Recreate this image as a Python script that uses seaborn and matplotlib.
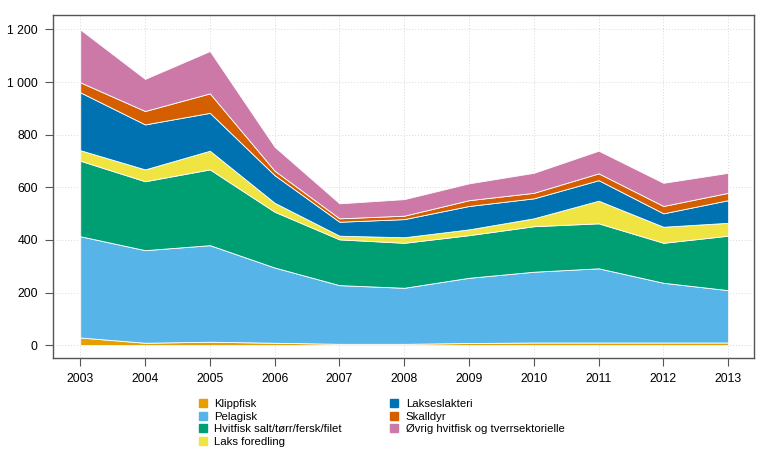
import numpy as np
import pandas as pd
import seaborn as sns
import matplotlib.pyplot as plt
from matplotlib.lines import Line2D
from matplotlib.ticker import FuncFormatter

### Data
years = [2003, 2004, 2005, 2006, 2007, 2008, 2009, 2010, 2011, 2012, 2013]
klippfisk = [29, 9, 13, 9, 5, 5, 8, 10, 10, 10, 10]
pelagisk = [385, 352, 367, 286, 223, 213, 248, 269, 282, 227, 199]
hvitfisk = [287, 262, 288, 212, 174, 171, 162, 173, 171, 152, 207]
laks_foredling = [40, 45, 71, 34, 14, 21, 22, 30, 86, 61, 49]
lakseslakteri = [220, 171, 144, 105, 53, 69, 89, 76, 78, 51, 86]
skalldyr = [38, 51, 74, 17, 13, 13, 22, 21, 26, 28, 28]
ovrig = [201, 122, 161, 91, 57, 63, 64, 76, 86, 88, 76]

labels = ["Klippfisk", "Pelagisk", "Hvitfisk salt/tørr/fersk/filet",
          "Laks foredling", "Lakseslakteri", "Skalldyr",
          "Øvrig hvitfisk og tverrsektorielle"]

df = pd.DataFrame({labels[0]: klippfisk, labels[1]: pelagisk,
                   labels[2]: hvitfisk, labels[3]: laks_foredling,
                   labels[4]: lakseslakteri, labels[5]: skalldyr,
                   labels[6]: ovrig}, index=years)

### Style
sns.set_style("white")
plt.rcParams['font.family'] = ['Liberation Sans', 'DejaVu Sans']
plt.rcParams['text.color'] = 'black'
colors = sns.color_palette(["#E69F00", "#56B4E9", "#009E73", "#F0E442",
                            "#0072B2", "#D55E00", "#CC79A7"])

fig = plt.figure(figsize=(7.62, 4.57), dpi=100)
ax = fig.add_axes([0.0696, 0.2166, 0.92, 0.7506])

# grid first so the areas sit on top
for y in range(0, 1201, 200):
    ax.axhline(y, color="#d9d9d9", lw=0.7, ls=(0, (1, 2)), zorder=0)
for x in years:
    ax.axvline(x, color="#d9d9d9", lw=0.7, ls=(0, (1, 2)), zorder=0)

ax.stackplot(df.index, *[df[c].values for c in df.columns], colors=colors,
             edgecolor="white", linewidth=0.6, zorder=2)

ax.set_xlim(2002.58, 2013.4)
ax.set_ylim(-49, 1255)
ax.set_xticks(years)
ax.set_yticks(range(0, 1201, 200))
ax.yaxis.set_major_formatter(FuncFormatter(lambda v, p: f"{int(v):,}".replace(",", " ")))
ax.tick_params(axis="both", which="major", direction="out", length=6,
               width=0.8, color="#555555", labelsize=8.8, labelcolor="black",
               pad=5, left=True, bottom=True)
for s in ax.spines.values():
    s.set_color("#555555")
    s.set_linewidth(1.0)

handles = [Line2D([0], [0], marker="s", ls="none", markersize=5.5,
                  markerfacecolor=c, markeredgecolor=c) for c in colors]
leg = fig.legend(handles, labels, ncol=2, loc="upper left",
                 bbox_to_anchor=(0.2605, 0.127), frameon=False, fontsize=8.2,
                 handlelength=0.8, handletextpad=0.6, labelspacing=0.24,
                 columnspacing=4.2, borderpad=0.0, borderaxespad=0.0)
for t in leg.get_texts():
    t.set_color("black")

fig.savefig("out.png", dpi=100)
